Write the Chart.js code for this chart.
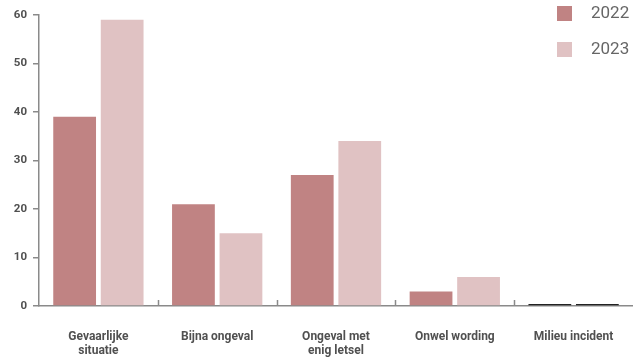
<!DOCTYPE html>
<html>
<head>
<meta charset="utf-8">
<script src="https://cdn.jsdelivr.net/npm/chart.js@4.4.1/dist/chart.umd.min.js"></script>
<style>
  html, body { margin: 0; padding: 0; background: #fff; }
  #wrap { width: 633px; height: 358px; }
</style>
</head>
<body>
<div id="wrap"><canvas id="c" width="633" height="358"></canvas></div>
<script>
const categories = [
  ['Gevaarlijke', 'situatie'],
  'Bijna ongeval',
  ['Ongeval met', 'enig letsel'],
  'Onwel wording',
  'Milieu incident'
];
const values2022 = [39, 21, 27, 3, 0];
const values2023 = [59, 15, 34, 6, 0];
const yTicks = [0, 10, 20, 30, 40, 50, 60];

const COLOR_2022 = '#c08383';
const COLOR_2023 = '#e0c2c3';
const ZERO_COLOR = '#222222';
const AXIS_COLOR = '#8a8a8a';

// Legend drawn in the top-right corner, overlapping the plot
const cornerLegend = {
  id: 'cornerLegend',
  afterDraw(chart) {
    const ctx = chart.ctx;
    ctx.save();
    chart.data.datasets.forEach((ds, i) => {
      const y = 6 + i * 36;
      ctx.fillStyle = ds.legendColor;
      ctx.fillRect(557, y, 15, 15);
      ctx.fillStyle = '#666';
      ctx.font = '17px Roboto';
      ctx.textBaseline = 'middle';
      ctx.textAlign = 'left';
      ctx.fillText(ds.label, 591, y + 8);
    });
    ctx.restore();
  }
};

// Small upward tick marks on the x axis between categories
const categoryDividers = {
  id: 'categoryDividers',
  afterDraw(chart) {
    const x = chart.scales.x;
    const ctx = chart.ctx;
    const bottom = chart.chartArea.bottom;
    ctx.save();
    ctx.strokeStyle = AXIS_COLOR;
    ctx.lineWidth = 1.5;
    for (let i = 1; i < chart.data.labels.length; i++) {
      const px = Math.round((x.getPixelForValue(i - 1) + x.getPixelForValue(i)) / 2) + 0.5;
      ctx.beginPath();
      ctx.moveTo(px, bottom);
      ctx.lineTo(px, bottom - 6);
      ctx.stroke();
    }
    ctx.restore();
  }
};

function barColor(base) {
  return (c) => (c.raw === 0 ? ZERO_COLOR : base);
}

new Chart(document.getElementById('c'), {
  type: 'bar',
  data: {
    labels: categories,
    datasets: [
      { label: '2022', data: values2022, legendColor: COLOR_2022,
        backgroundColor: barColor(COLOR_2022), minBarLength: 2 },
      { label: '2023', data: values2023, legendColor: COLOR_2023,
        backgroundColor: barColor(COLOR_2023), minBarLength: 2 }
    ]
  },
  options: {
    responsive: false,
    animation: false,
    layout: { padding: { top: 15, right: 0, left: 0, bottom: 0 } },
    datasets: { bar: { categoryPercentage: 0.8, barPercentage: 0.9 } },
    plugins: { legend: { display: false }, tooltip: { enabled: false } },
    scales: {
      x: {
        afterFit(s) { s.height = 52; s.paddingRight = 0; s.paddingLeft = 0; },
        grid: { display: false, drawTicks: false },
        border: { display: true, color: AXIS_COLOR, width: 1.5 },
        ticks: {
          color: '#505050',
          font: { family: 'Roboto', size: 12, weight: 'bold', lineHeight: 1.15 },
          maxRotation: 0,
          autoSkip: false,
          padding: 24
        }
      },
      y: {
        min: 0,
        max: 60,
        afterFit(s) { s.width = 39; },
        afterBuildTicks(s) { s.ticks = yTicks.map(v => ({ value: v })); },
        grid: { drawOnChartArea: false, drawTicks: true, tickLength: 6, color: AXIS_COLOR, lineWidth: 1.5 },
        border: { display: true, color: AXIS_COLOR, width: 1.5 },
        ticks: {
          color: '#505050',
          font: { family: 'Roboto', size: 11.5, weight: 'bold' },
          padding: 6
        }
      }
    }
  },
  plugins: [cornerLegend, categoryDividers]
});
</script>
</body>
</html>
